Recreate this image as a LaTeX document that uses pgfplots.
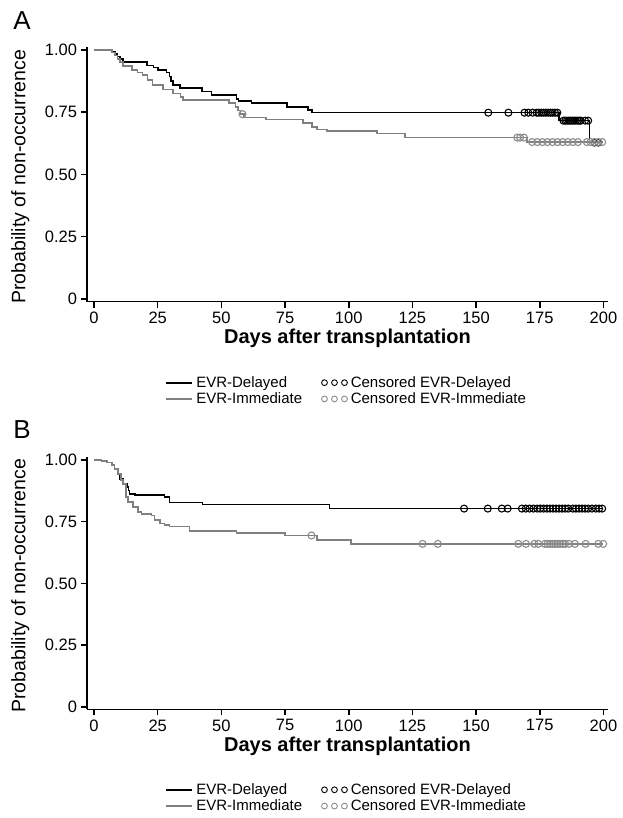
\documentclass[border=0pt]{standalone}
\usepackage{fontspec}
\setmainfont{Liberation Sans}
\usepackage{pgfplots}
\pgfplotsset{compat=1.18}
\definecolor{kmgray}{RGB}{128,128,128}
\definecolor{cengray}{RGB}{140,140,140}

\pgfplotsset{
  kmaxis/.style={
    scale only axis, width=521pt, height=255pt,
    axis x line*=bottom, axis y line*=left,
    axis line style={line width=1.6pt, -},
    tick style={line width=1.6pt, black},
    tick align=outside, major tick length=6pt,
    xmin=-2.75, xmax=201.8,
    xtick={0,25,...,200},
    ytick={0,0.25,0.5,0.75,1},
    yticklabels={0,0.25,0.50,0.75,1.00},
    /pgf/number format/assume math mode=true,
    ticklabel style={font=\fontsize{16.5}{19}\selectfont},
    xticklabel style={yshift=-0.5pt},
    yticklabel style={xshift=-0.5pt},
    xlabel={Days after transplantation},
    xlabel style={font=\fontsize{20}{24}\selectfont\bfseries, at={(axis description cs:0.5,-0.145)}, anchor=center},
    ylabel={Probability of non-occurrence},
    ylabel style={font=\fontsize{19.5}{23}\selectfont, at={(axis description cs:-0.128,0.49)}, anchor=center, rotate=0},
    legend columns=2,
    legend cell align=left,
    legend style={at={(0.499,-0.28)}, anchor=north, draw=none,
      font=\fontsize{15}{17}\selectfont,
      nodes={inner ysep=1.2pt, inner xsep=3pt},
      /tikz/every even column/.append style={column sep=16pt},
      row sep=1.5pt},
    kmline/.style={const plot, line width=1.6pt},
    cen/.style={only marks, mark=o, mark size=3.5pt, mark options={line width=1.1pt}},
  }
}

\begin{document}
\begin{tikzpicture}
\path[use as bounding box] (0pt,0pt) rectangle (622pt,818pt);

% ---------------- Panel A ----------------
\begin{axis}[kmaxis, at={(87pt,516.3pt)}, anchor=south west, ymin=-0.011, ymax=1.013]
\addplot[kmline, black, forget plot] coordinates {
(0,1.000) (6.9,0.993) (8.2,0.984) (9.2,0.973) (10.2,0.963) (11.3,0.951)
(20.7,0.937) (23.3,0.929) (25.2,0.920) (28.5,0.909) (29.6,0.893) (30.3,0.876)
(31.1,0.859) (33.8,0.846) (42.3,0.833) (46.2,0.819) (56.0,0.803) (56.7,0.796)
(61.9,0.786) (75.7,0.770) (84.1,0.759) (85.5,0.748) (182.5,0.716) (194.6,0.628)
(200,0.628)};
\addplot[kmline, kmgray, forget plot] coordinates {
(0,1.000) (7.0,0.990) (8.3,0.977) (9.3,0.964) (10.3,0.951) (11.5,0.935)
(15.0,0.919) (17.0,0.909) (19.0,0.899) (21.0,0.879) (23.0,0.859) (27.0,0.841)
(31.0,0.825) (34.0,0.812) (35.0,0.798) (53.0,0.786) (55.5,0.770) (56.5,0.756)
(57.5,0.742) (59.0,0.729) (67.5,0.720) (82.0,0.707) (85.5,0.691) (87.5,0.680)
(91.5,0.674) (111.0,0.664) (122.0,0.648) (170.0,0.630) (200,0.630)};
\addplot[cen, black, forget plot] coordinates {
(154.8,0.748) (162.7,0.748) (169,0.748) (170.5,0.748) (172.2,0.748) (173.8,0.748)
(174.7,0.748) (175.6,0.748) (176.5,0.748) (177.4,0.748) (178.3,0.748) (179.2,0.748)
(180.1,0.748) (181.0,0.748) (181.9,0.748)
(184.3,0.716) (185.0,0.716) (185.7,0.716) (186.4,0.716) (187.1,0.716) (187.8,0.716)
(188.5,0.716) (189.2,0.716) (189.9,0.716) (190.6,0.716) (191.1,0.716) (192.8,0.716)
(194.0,0.716)
(196.5,0.628) (198.0,0.628)};
\addplot[cen, cengray, forget plot] coordinates {
(58.3,0.742)
(166.2,0.648) (167.3,0.648) (168.8,0.648)
(172,0.630) (174,0.630) (176,0.630) (178,0.630) (180,0.630) (182,0.630)
(184,0.630) (186,0.630) (188,0.630) (190,0.630) (193.5,0.630) (195,0.630)
(196.5,0.630) (198,0.630) (199.5,0.630)};
\addlegendimage{legend image code/.code={\draw[black,line width=2.2pt] (0pt,0pt)--(26pt,0pt);}}
\addlegendentry{EVR-Delayed}
\addlegendimage{legend image code/.code={\draw[black,line width=0.9pt] (3.4pt,0pt) circle (2.9pt) (13.4pt,0pt) circle (2.9pt) (23.4pt,0pt) circle (2.9pt);}}
\addlegendentry{Censored EVR-Delayed}
\addlegendimage{legend image code/.code={\draw[kmgray,line width=2.2pt] (0pt,0pt)--(26pt,0pt);}}
\addlegendentry{EVR-Immediate}
\addlegendimage{legend image code/.code={\draw[cengray,line width=0.9pt] (3.4pt,0pt) circle (2.9pt) (13.4pt,0pt) circle (2.9pt) (23.4pt,0pt) circle (2.9pt);}}
\addlegendentry{Censored EVR-Immediate}
\end{axis}
\node[anchor=center, font=\fontsize{26}{30}\selectfont] at (22pt,797pt) {A};

% ---------------- Panel B ----------------
\begin{axis}[kmaxis, at={(87pt,108.5pt)}, anchor=south west, height=252.5pt, ymin=-0.011, ymax=1.012]
\addplot[kmline, black, forget plot] coordinates {
(0,1.000) (3.0,0.996) (5.0,0.990) (7.0,0.980) (8.0,0.964) (9.5,0.943)
(10.0,0.924) (11.5,0.903) (13.0,0.890) (13.5,0.876) (14.0,0.863) (16.0,0.859)
(27.7,0.850) (29.7,0.827) (42.6,0.819) (92.5,0.803) (200,0.803)};
\addplot[kmline, kmgray, forget plot] coordinates {
(0,1.000) (3.0,0.996) (5.0,0.990) (7.0,0.980) (8.0,0.964) (9.5,0.942)
(10.5,0.920) (11.5,0.903) (12.5,0.850) (13.4,0.830) (15.3,0.810) (17.3,0.790)
(18.7,0.780) (22.6,0.775) (23.8,0.757) (25.8,0.743) (27.7,0.737) (29.7,0.730)
(37.5,0.712) (56.0,0.703) (75.0,0.694) (87.5,0.676) (101.0,0.660) (200,0.660)};
\addplot[cen, black, forget plot] coordinates {
(145.3,0.803) (154.6,0.803) (160.1,0.803) (162.4,0.803) (168,0.803) (169.5,0.803)
(171,0.803) (172.5,0.803) (174,0.803) (175.2,0.803) (176.5,0.803) (177.8,0.803)
(179,0.803) (180.2,0.803) (181.4,0.803) (182.6,0.803) (183.8,0.803) (185,0.803)
(186.2,0.803) (188,0.803) (189.2,0.803) (190.4,0.803) (191.6,0.803) (192.8,0.803)
(194,0.803) (195.5,0.803) (197,0.803) (198.3,0.803) (199.5,0.803)};
\addplot[cen, cengray, forget plot] coordinates {
(85.4,0.694)
(129,0.660) (135,0.660) (166.6,0.660) (169.6,0.660) (172.9,0.660) (174.4,0.660)
(177,0.660) (178,0.660) (179,0.660) (180,0.660) (181,0.660) (182,0.660)
(183,0.660) (184,0.660) (185,0.660) (186.5,0.660) (188.8,0.660) (193,0.660)
(198,0.660) (199.9,0.660)};
\addlegendimage{legend image code/.code={\draw[black,line width=2.2pt] (0pt,0pt)--(26pt,0pt);}}
\addlegendentry{EVR-Delayed}
\addlegendimage{legend image code/.code={\draw[black,line width=0.9pt] (3.4pt,0pt) circle (2.9pt) (13.4pt,0pt) circle (2.9pt) (23.4pt,0pt) circle (2.9pt);}}
\addlegendentry{Censored EVR-Delayed}
\addlegendimage{legend image code/.code={\draw[kmgray,line width=2.2pt] (0pt,0pt)--(26pt,0pt);}}
\addlegendentry{EVR-Immediate}
\addlegendimage{legend image code/.code={\draw[cengray,line width=0.9pt] (3.4pt,0pt) circle (2.9pt) (13.4pt,0pt) circle (2.9pt) (23.4pt,0pt) circle (2.9pt);}}
\addlegendentry{Censored EVR-Immediate}
\end{axis}
\node[anchor=center, font=\fontsize{26}{30}\selectfont] at (22pt,388pt) {B};
\end{tikzpicture}
\end{document}
